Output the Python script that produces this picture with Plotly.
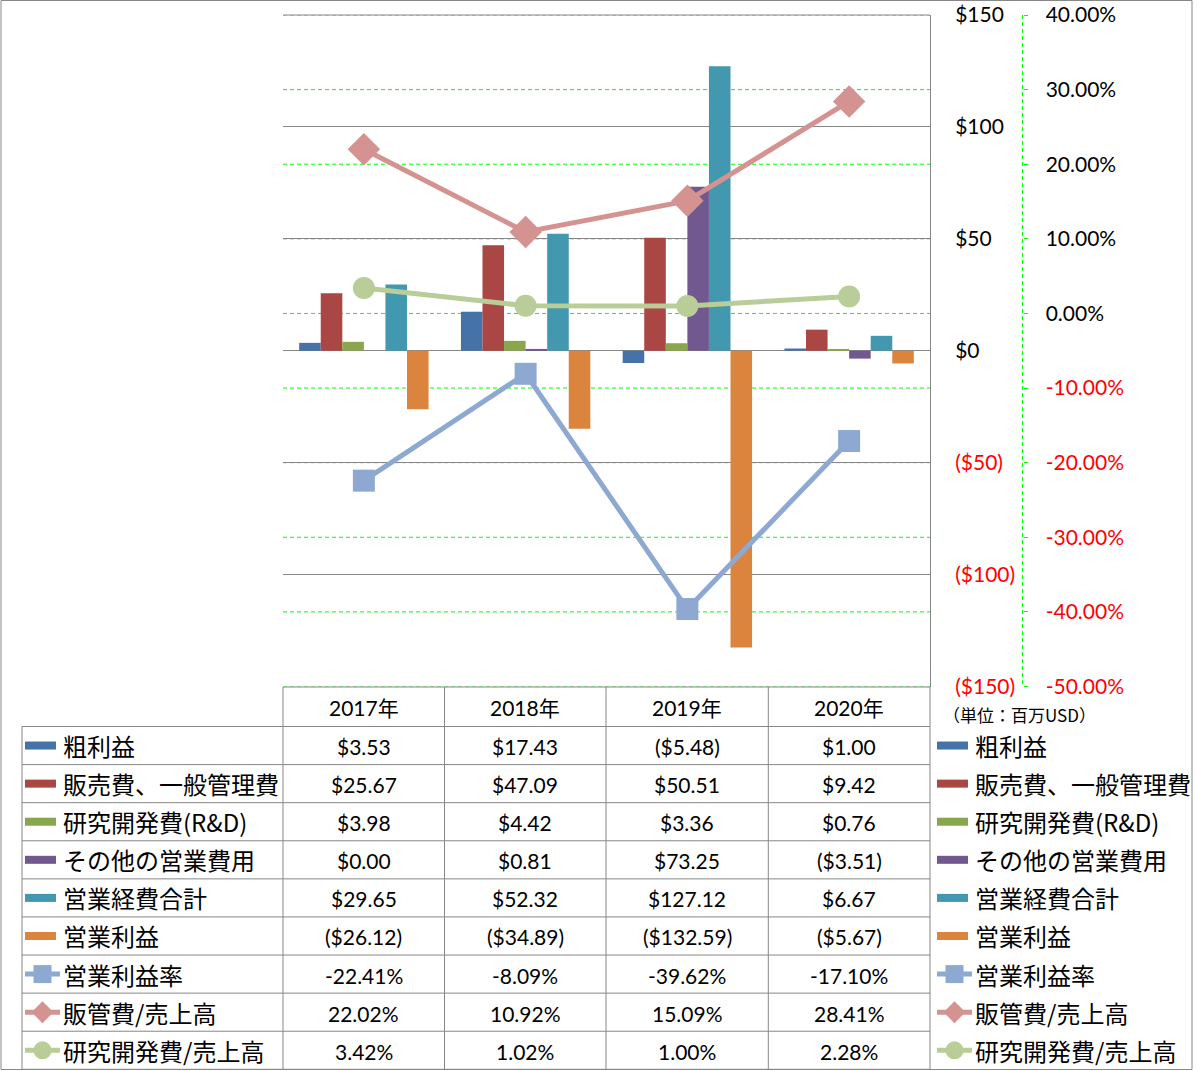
import plotly.graph_objects as go

W, H = 1197, 1071

# data (USD millions, ratios in %)
years = ['2017年', '2018年', '2019年', '2020年']
gross_profit = [3.53, 17.43, -5.48, 1.00]
sga = [25.67, 47.09, 50.51, 9.42]
rnd = [3.98, 4.42, 3.36, 0.76]
other_opex = [0.00, 0.81, 73.25, -3.51]
total_opex = [29.65, 52.32, 127.12, 6.67]
op_income = [-26.12, -34.89, -132.59, -5.67]
op_margin = [-22.41, -8.09, -39.62, -17.10]
sga_ratio = [22.02, 10.92, 15.09, 28.41]
rnd_ratio = [3.42, 1.02, 1.00, 2.28]

usd_ticks = [150, 100, 50, 0, -50, -100, -150]
pct_ticks = [40, 30, 20, 10, 0, -10, -20, -30, -40, -50]

bar_series = [
    ('粗利益', gross_profit, '#4572A7'),
    ('販売費、一般管理費', sga, '#AA4643'),
    ('研究開発費(R&D)', rnd, '#89A54E'),
    ('その他の営業費用', other_opex, '#71588F'),
    ('営業経費合計', total_opex, '#4198AF'),
    ('営業利益', op_income, '#DB843D'),
]
line_series = [
    ('営業利益率', op_margin, '#8EA9D1', 'square', 22),
    ('販管費/売上高', sga_ratio, '#D49391', 'diamond', 25),
    ('研究開発費/売上高', rnd_ratio, '#B8CD97', 'circle', 22),
]

RED = '#FF0000'
GRID = '#878787'
GREEN = '#00FF00'
NUM_FONT = 'Lato, "Noto Sans CJK JP", sans-serif'
JP_FONT = '"Noto Sans CJK JP", sans-serif'


def px(x):
    return x / W


def py(y):
    return 1 - y / H


def money(v):
    return f'${v:,.2f}' if v >= 0 else f'(${-v:,.2f})'


def money_tick(v):
    if v < 0:
        return f'<span style="color:{RED}">(${-v:.0f})</span>'
    return f'${v:.0f}'


def pct_tick(v):
    if v < 0:
        return f'<span style="color:{RED}">{v:.2f}%</span>'
    return f'{v:.2f}%'


fig = go.Figure()

for name, vals, color in bar_series:
    fig.add_trace(go.Bar(x=years, y=vals, name=name, marker_color=color,
                         marker_line_width=0, yaxis='y'))

for name, vals, color, sym, size in line_series:
    fig.add_trace(go.Scatter(x=years, y=vals, name=name, yaxis='y2', mode='lines+markers',
                             line=dict(color=color, width=5),
                             marker=dict(symbol=sym, size=size, color=color)))

shapes = []
annotations = []

# green dashed % gridlines, kept under the grey $ gridlines
for v in pct_ticks:
    shapes.append(dict(type='line', xref='paper', yref='y2', x0=px(283), x1=px(930), y0=v, y1=v,
                       layer='below', line=dict(color=GREEN, width=1, dash='4px,3px')))

# dashed axis line of the % axis, and top edge of the plot area
shapes.append(dict(type='line', xref='paper', yref='paper', x0=px(1022.5), x1=px(1022.5),
                   y0=py(15), y1=py(686.5), line=dict(color=GREEN, width=1, dash='4px,3px')))
shapes.append(dict(type='line', xref='paper', yref='paper', x0=px(283), x1=px(930),
                   y0=py(15), y1=py(15), line=dict(color=GRID, width=1)))

# outer border
shapes.append(dict(type='rect', xref='paper', yref='paper', x0=px(1), x1=px(1192),
                   y0=py(0.5), y1=py(1069.5), line=dict(color=GRID, width=1)))

# data table
col_x = [22, 283, 444.5, 606, 768.3, 930]
top = 687
head_bot = 726.5
row_h = 38.09
n_rows = 9
bottom = head_bot + row_h * n_rows

shapes.append(dict(type='line', xref='paper', yref='paper', x0=px(283), x1=px(930),
                   y0=py(top), y1=py(top), line=dict(color=GRID, width=1)))
for i in range(n_rows + 1):
    yy = head_bot + row_h * i
    shapes.append(dict(type='line', xref='paper', yref='paper', x0=px(22), x1=px(930),
                       y0=py(yy), y1=py(yy), line=dict(color=GRID, width=1)))
shapes.append(dict(type='line', xref='paper', yref='paper', x0=px(22), x1=px(22),
                   y0=py(head_bot), y1=py(bottom), line=dict(color=GRID, width=1)))
for xx in col_x[1:]:
    shapes.append(dict(type='line', xref='paper', yref='paper', x0=px(xx), x1=px(xx),
                       y0=py(top), y1=py(bottom), line=dict(color=GRID, width=1)))

for j, yr in enumerate(years):
    cx = (col_x[j + 1] + col_x[j + 2]) / 2
    annotations.append(dict(text=yr, x=px(cx), y=py((top + head_bot) / 2 + 1), xref='paper', yref='paper',
                            showarrow=False, xanchor='center', yanchor='middle',
                            font=dict(family=NUM_FONT, size=21, color='black')))

rows = []
for name, vals, color in bar_series:
    rows.append((name, [money(v) for v in vals], color, 'bar', None))
for name, vals, color, sym, size in line_series:
    rows.append((name, [f'{v:.2f}%' for v in vals], color, 'line', sym))


def legend_key(x0, cy, color, kind, sym):
    if kind == 'bar':
        shapes.append(dict(type='rect', xref='paper', yref='paper', x0=px(x0), x1=px(x0 + 31),
                           y0=py(cy - 4), y1=py(cy + 4), fillcolor=color, line=dict(width=0)))
        return
    shapes.append(dict(type='line', xref='paper', yref='paper', x0=px(x0), x1=px(x0 + 35),
                       y0=py(cy), y1=py(cy), line=dict(color=color, width=5)))
    mx = x0 + 17.5
    r = 9
    if sym == 'square':
        shapes.append(dict(type='rect', xref='paper', yref='paper', x0=px(mx - r), x1=px(mx + r),
                           y0=py(cy - r), y1=py(cy + r), fillcolor=color, line=dict(width=0)))
    elif sym == 'circle':
        shapes.append(dict(type='circle', xref='paper', yref='paper', x0=px(mx - r), x1=px(mx + r),
                           y0=py(cy - r), y1=py(cy + r), fillcolor=color, line=dict(width=0)))
    else:
        d = 11
        path = (f'M {px(mx - d)} {py(cy)} L {px(mx)} {py(cy - d)} '
                f'L {px(mx + d)} {py(cy)} L {px(mx)} {py(cy + d)} Z')
        shapes.append(dict(type='path', xref='paper', yref='paper', path=path,
                           fillcolor=color, line=dict(width=0)))


for i, (name, texts, color, kind, sym) in enumerate(rows):
    cy = head_bot + row_h * (i + 0.5)
    legend_key(25, cy, color, kind, sym)
    legend_key(937, cy, color, kind, sym)
    for xl in (61, 973):
        annotations.append(dict(text=name, x=px(xl), y=py(cy), xref='paper', yref='paper',
                                showarrow=False, xanchor='left', yanchor='middle',
                                font=dict(family=JP_FONT, size=24, color='black')))
    for j, t in enumerate(texts):
        cx = (col_x[j + 1] + col_x[j + 2]) / 2
        annotations.append(dict(text=t, x=px(cx), y=py(cy + 1), xref='paper', yref='paper',
                                showarrow=False, xanchor='center', yanchor='middle',
                                font=dict(family=NUM_FONT, size=21, color='black')))

annotations.append(dict(text='（単位：百万USD）', x=px(941), y=py(714), xref='paper', yref='paper',
                        showarrow=False, xanchor='left', yanchor='middle',
                        font=dict(family=JP_FONT, size=17, color='black')))

fig.update_layout(
    width=W, height=H,
    margin=dict(l=0, r=0, t=0, b=0, autoexpand=False),
    paper_bgcolor='white', plot_bgcolor='white',
    showlegend=False,
    barmode='group', bargap=0.2, bargroupgap=0,
    font=dict(family=NUM_FONT, size=21, color='black'),
    xaxis=dict(domain=[px(283), px(930)], type='category', showticklabels=False, ticks='',
               showline=False, showgrid=False, zeroline=False, automargin=False),
    yaxis=dict(domain=[py(686.5), py(15)], range=[-150, 150], automargin=False,
               tickvals=usd_ticks, ticktext=[money_tick(v) for v in usd_ticks],
               side='right', anchor='free', position=px(930),
               showline=True, linecolor=GRID, linewidth=1, ticks='', ticklabelstandoff=20,
               showgrid=True, gridcolor=GRID, gridwidth=1,
               zeroline=True, zerolinecolor=GRID, zerolinewidth=1,
               tickfont=dict(family=NUM_FONT, size=21, color='black')),
    yaxis2=dict(overlaying='y', range=[-50, 40], side='right', anchor='free', position=px(1022.5),
                automargin=False,
                tickvals=pct_ticks, ticktext=[pct_tick(v) for v in pct_ticks],
                ticks='outside', ticklen=4, tickcolor=GREEN, tickwidth=1,
                showline=False, showgrid=False, zeroline=False, ticklabelstandoff=14,
                tickfont=dict(family=NUM_FONT, size=21, color='black')),
    shapes=shapes,
    annotations=annotations,
)

# pin the fixed-size figure to the page origin (no default body margin)
pin_page = f"""
var gd = document.getElementById('{{plot_id}}');
document.documentElement.style.cssText = 'margin:0;padding:0;overflow:hidden;height:{H}px;';
document.body.style.cssText = 'margin:0;padding:0;overflow:hidden;height:{H}px;position:relative;';
gd.style.position = 'absolute';
gd.style.left = '0px';
gd.style.top = '0px';
"""

fig.write_html('out.html', config={'displayModeBar': False}, post_script=pin_page)
